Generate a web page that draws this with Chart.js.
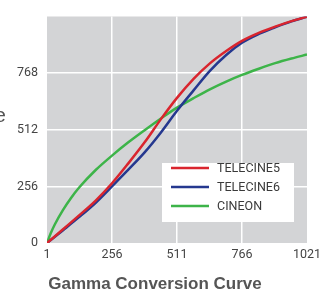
<!DOCTYPE html>
<html>
<head>
<meta charset="utf-8">
<script src="https://cdn.jsdelivr.net/npm/chart.js@4"></script>
<style>
  html, body { margin: 0; padding: 0; background: #fff; }
  #wrap { width: 332px; height: 292px; }
</style>
</head>
<body>
<div id="wrap"><canvas id="chart"></canvas></div>
<script>
// Valori
const xCodes = [1, 64, 128, 192, 256, 320, 384, 448, 511, 576, 640, 704, 766, 832, 896, 960, 1021];
const telecine5 = [0, 62, 126, 192, 270, 360, 455, 560, 656, 742, 812, 868, 914, 950, 978, 1003, 1023];
const telecine6 = [0, 58, 118, 182, 256, 332, 410, 500, 598, 690, 778, 850, 905, 945, 975, 1002, 1023];
const cineonX = [1, 16, 32, 64, 96, 128, 192, 256, 320, 384, 448, 511, 576, 640, 704, 766, 832, 896, 960, 1021];
const cineon = [0, 45, 85, 150, 205, 252, 330, 395, 455, 510, 563, 612, 655, 695, 730, 760, 788, 813, 834, 852];
const xTicks = [1, 256, 511, 766, 1021];
const yTicks = [0, 256, 512, 768];
const seriesNames = ["TELECINE5", "TELECINE6", "CINEON"];
const seriesColors = ["#d9252e", "#25388f", "#3db449"];

const toPoints = (xs, ys) => xs.map((x, i) => ({ x: x, y: ys[i] }));

// sfondo grigio dell'area del grafico, legenda e testi
const decor = {
  id: "decor",
  beforeDraw(chart) {
    const { ctx, chartArea: a } = chart;
    ctx.save();
    ctx.fillStyle = "#d3d4d6";
    ctx.fillRect(a.left, a.top, a.right - a.left, a.bottom - a.top);
    ctx.restore();
  },
  afterDraw(chart) {
    const ctx = chart.ctx;
    ctx.save();
    // legenda
    ctx.fillStyle = "#ffffff";
    ctx.fillRect(162, 163, 132, 59);
    chart.data.datasets.forEach((ds, i) => {
      const y = 168 + i * 19;
      ctx.strokeStyle = ds.borderColor;
      ctx.lineWidth = 2.5;
      ctx.beginPath();
      ctx.moveTo(171, y);
      ctx.lineTo(209, y);
      ctx.stroke();
      ctx.fillStyle = "#3a3a3a";
      ctx.font = "12.5px Roboto";
      ctx.textBaseline = "middle";
      ctx.fillText(ds.label, 217, y + 0.5);
    });
    // titolo
    ctx.fillStyle = "#555555";
    ctx.font = "bold 17px 'Liberation Sans'";
    ctx.textAlign = "center";
    ctx.textBaseline = "alphabetic";
    ctx.fillText("Gamma Conversion Curve", 155, 289);
    // titolo asse y tagliato
    ctx.font = "21px 'Liberation Sans'";
    ctx.textAlign = "right";
    ctx.fillText("Code Value", 6, 122);
    ctx.restore();
  }
};

const config = {
  type: "line",
  data: {
    datasets: [
      { label: seriesNames[0], data: toPoints(xCodes, telecine5), borderColor: seriesColors[0] },
      { label: seriesNames[1], data: toPoints(xCodes, telecine6), borderColor: seriesColors[1] },
      { label: seriesNames[2], data: toPoints(cineonX, cineon), borderColor: seriesColors[2] },
    ],
  },
  options: {
    responsive: true,
    maintainAspectRatio: false,
    animation: false,
    layout: { padding: { left: 0, right: 25, top: 11, bottom: 29 } },
    elements: {
      point: { radius: 0 },
      line: { borderWidth: 2.5, cubicInterpolationMode: "monotone", fill: false },
    },
    scales: {
      x: {
        type: "linear",
        min: 1,
        max: 1021,
        afterBuildTicks: (s) => { s.ticks = xTicks.map((v) => ({ value: v })); },
        afterFit: (s) => { s.height = 20; },
        border: { display: false },
        grid: {
          drawTicks: false,
          lineWidth: 1.5,
          color: (c) => (c.tick && (c.tick.value === 1 || c.tick.value === 1021) ? "rgba(0,0,0,0)" : "#ffffff"),
        },
        ticks: {
          color: "#444",
          font: { family: "Roboto", size: 12.5 },
          padding: 4,
          maxRotation: 0,
          autoSkip: false,
          callback: (v) => String(v),
        },
      },
      y: {
        min: 0,
        max: 1024,
        afterBuildTicks: (s) => { s.ticks = yTicks.map((v) => ({ value: v })); },
        afterFit: (s) => { s.width = 47; },
        border: { display: false },
        grid: {
          drawTicks: false,
          lineWidth: 1.5,
          color: (c) => (c.tick && c.tick.value === 0 ? "rgba(0,0,0,0)" : "#ffffff"),
        },
        ticks: { color: "#444", font: { family: "Roboto", size: 12.5 }, padding: 9 },
      },
    },
    plugins: {
      legend: { display: false },
      tooltip: { enabled: false },
    },
  },
  plugins: [decor],
};

const ctx = document.getElementById("chart").getContext("2d");
const chart = new Chart(ctx, config);
</script>
</body>
</html>
